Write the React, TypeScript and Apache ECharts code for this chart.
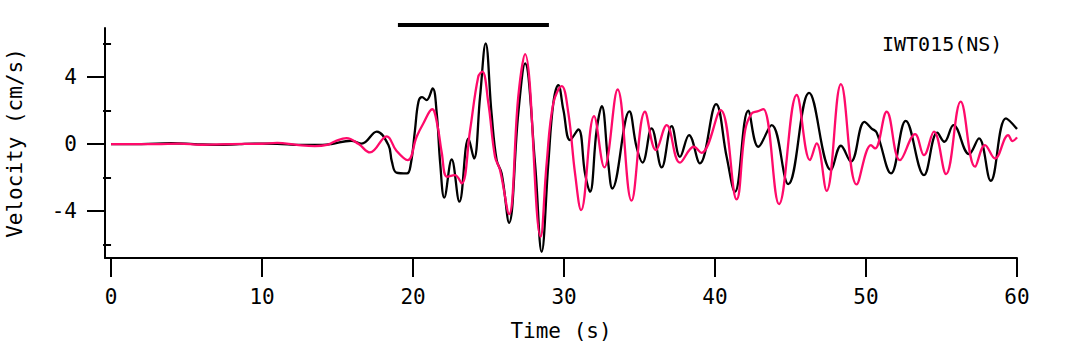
import React, { useEffect, useRef } from "react";
import * as echarts from "echarts";

const FONT = "DejaVu Sans Mono";

// Observed (black) and synthetic (pink) velocity waveforms: [time s, velocity cm/s]
const blackWave: [number, number][] = [
  [0, 0], [2, 0], [4, 0.05], [5.5, 0], [7, -0.05], [8.5, 0], [9.5, 0.03], [11, 0.02],
  [12.5, -0.05], [14, -0.05], [14.6, 0], [15.9, 0.2], [16.6, 0.03], [17.6, 0.74],
  [18.37, -0.06], [18.6, -1.05], [18.9, -1.7], [19.6, -1.75], [19.85, -1.2], [20.13, 0.84],
  [20.36, 2.53], [20.6, 2.8], [20.9, 2.63], [21.3, 3.32], [21.57, 1.83], [21.8, -1.15],
  [22.07, -3.2], [22.56, -0.92], [23.07, -3.44], [23.67, 0.34], [24.04, -0.86], [24.44, 2.83],
  [24.81, 6.01], [25.2, 1.83], [25.54, -0.96], [25.87, -1.75], [26.36, -4.7], [26.97, 1.83],
  [27.42, 4.82], [28.08, -1.15], [28.52, -6.43], [28.96, -1.15], [29.29, 2.43], [29.62, 3.52],
  [29.96, 2.03], [30.4, 0.24], [30.95, 0.87], [31.39, -1.75], [31.72, -2.85], [32.16, 0.84],
  [32.5, 2.27], [32.93, -1.15], [33.2, -2.65], [34.33, 1.95], [34.8, -0.16], [35.2, -1.1],
  [35.8, 0.94], [36.47, -1.39], [37.13, 1.07], [37.68, -0.76], [38.28, 0.54], [39.0, -1.15],
  [40.07, 2.39], [40.77, -0.76], [41.32, -2.85], [42.2, 1.99], [42.87, -0.16], [43.75, 1.13],
  [44.85, -2.39], [46.23, 3.06], [47.68, -1.55], [48.34, -0.1], [49.0, -1.05], [49.9, 1.33],
  [50.37, 0.93], [50.7, 0.7], [51.66, -1.75], [52.63, 1.39], [53.84, -1.85], [54.72, 0.68],
  [55.19, 0.14], [55.79, 1.13], [56.82, -0.6], [57.48, 0.34], [58.26, -2.19], [59.27, 1.53],
  [60, 0.9],
];

const pinkWave: [number, number][] = [
  [0, 0], [3, 0], [4.5, 0.03], [6, -0.04], [8, 0], [10, 0.02], [11, 0.07], [12.3, -0.05],
  [13.5, -0.12], [14.3, -0.05], [14.8, 0.15], [15.6, 0.36], [16.4, 0.0], [17.15, -0.5],
  [18.26, 0.46], [18.9, -0.4], [19.65, -0.96], [20.24, 0.44], [20.68, 1.23], [21.27, 2.08],
  [21.6, 1.2], [21.9, -0.5], [22.25, -1.95], [22.78, -1.85], [23.22, -2.35], [23.78, 0.84],
  [24.32, 4.02], [24.59, 4.32], [24.99, 2.43], [25.43, -0.76], [25.76, -1.55], [26.36, -4.18],
  [26.97, 2.83], [27.42, 5.37], [28.45, -5.53], [28.85, -1.15], [29.29, 2.43], [29.85, 3.46],
  [30.29, 1.83], [30.73, -1.75], [31.13, -3.94], [31.99, 1.67], [32.67, -1.39], [33.55, 3.26],
  [34.47, -3.38], [35.36, 1.93], [36.09, -0.36], [36.8, 1.13], [37.68, -1.11], [38.6, -0.16],
  [39.1, -0.52], [40.37, 2.03], [41.43, -3.3], [42.0, 0.84], [42.43, 1.83], [42.8, 1.95],
  [43.2, 2.09], [44.24, -3.58], [45.41, 2.93], [46.29, -0.96], [46.73, 0.04], [47.39, -2.79],
  [48.34, 3.58], [49.38, -2.41], [50.33, -0.06], [50.6, -0.26], [51.37, 1.93], [52.25, -0.96],
  [53.25, 0.6], [53.84, -0.66], [54.5, 0.74], [55.3, -1.79], [56.27, 2.53], [57.22, -1.35],
  [57.88, -0.06], [58.54, -0.86], [59.42, 0.54], [59.7, 0.18], [60, 0.4],
];

// Analysis time window bar
const windowBar: [number, number][] = [[19, 0], [29, 0]];

const xTicks = [0, 10, 20, 30, 40, 50, 60];
const yMajorTicks = [-4, 0, 4];
const yMinorTicks = [-6, -2, 2, 6];

const stationLabel = "IWT015(NS)";
const xName = "Time (s)";
const yName = "Velocity (cm/s)";

const X_MIN = -0.4;
const X_MAX = 60;
const Y_MIN = -6.8;
const Y_MAX = 6.93;

export default function App() {
  const ref = useRef<HTMLDivElement>(null);

  useEffect(() => {
    if (!ref.current) return;
    const chart = echarts.init(ref.current, null, { renderer: "svg" });
    const axisStyle = { color: "#000", width: 2 };
    const labelStyle = { color: "#000", fontFamily: FONT, fontSize: 21 };

    chart.setOption({
      animation: false,
      backgroundColor: "#fff",
      title: {
        text: stationLabel,
        left: 877,
        top: 29,
        textStyle: { color: "#000", fontFamily: FONT, fontSize: 20, fontWeight: "normal" },
      },
      grid: [
        { left: 105, right: 60, top: 28, bottom: 86, containLabel: false, outerBoundsMode: "none" },
        { left: 105, right: 60, top: 15, height: 20, containLabel: false, outerBoundsMode: "none" },
      ],
      xAxis: [
        {
          type: "value",
          gridIndex: 0,
          min: X_MIN,
          max: X_MAX,
          axisLine: { show: true, onZero: false, lineStyle: axisStyle },
          axisTick: { show: true, customValues: xTicks, length: 19, lineStyle: axisStyle },
          axisLabel: { show: true, customValues: xTicks, margin: 28, ...labelStyle },
          splitLine: { show: false },
          name: xName,
          nameLocation: "middle",
          nameGap: 62,
          nameTextStyle: labelStyle,
        },
        {
          type: "value",
          gridIndex: 1,
          min: X_MIN,
          max: X_MAX,
          show: false,
        },
      ],
      yAxis: [
        {
          type: "value",
          gridIndex: 0,
          min: Y_MIN,
          max: Y_MAX,
          axisLine: { show: true, onZero: false, lineStyle: axisStyle },
          axisTick: { show: true, customValues: yMajorTicks, length: 18, lineStyle: axisStyle },
          axisLabel: { show: true, customValues: yMajorTicks, margin: 28, ...labelStyle },
          splitLine: { show: false },
          name: yName,
          nameLocation: "middle",
          nameRotate: 90,
          nameGap: 80,
          nameTextStyle: labelStyle,
        },
        {
          type: "value",
          gridIndex: 0,
          min: Y_MIN,
          max: Y_MAX,
          position: "left",
          axisLine: { show: false },
          axisTick: { show: true, customValues: yMinorTicks, length: 8, lineStyle: axisStyle },
          axisLabel: { show: false },
          splitLine: { show: false },
        },
        {
          type: "value",
          gridIndex: 1,
          min: -1,
          max: 1,
          show: false,
        },
      ],
      series: [
        {
          type: "line",
          xAxisIndex: 0,
          yAxisIndex: 0,
          data: blackWave,
          smooth: 0.4,
          showSymbol: false,
          lineStyle: { color: "#000", width: 2.3 },
          itemStyle: { color: "#000" },
        },
        {
          type: "line",
          xAxisIndex: 0,
          yAxisIndex: 0,
          data: pinkWave,
          smooth: 0.4,
          showSymbol: false,
          lineStyle: { color: "#FF0A6A", width: 2.3 },
          itemStyle: { color: "#FF0A6A" },
        },
        {
          type: "line",
          xAxisIndex: 1,
          yAxisIndex: 2,
          data: windowBar,
          showSymbol: false,
          lineStyle: { color: "#000", width: 4, cap: "butt" },
          itemStyle: { color: "#000" },
        },
      ],
    });
    return () => chart.dispose();
  }, []);

  return (
    <div
      ref={ref}
      style={{ position: "fixed", left: 0, top: 0, width: 1077, height: 344, background: "#fff" }}
    />
  );
}
